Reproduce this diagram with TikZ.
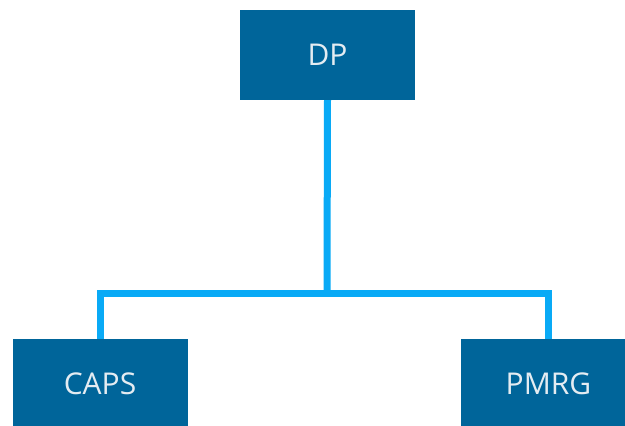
\documentclass[tikz,border=0pt]{standalone}
\usepackage{fontspec}
\setmainfont{Open Sans}
\usepackage{tikz}
\usetikzlibrary{calc}
\definecolor{boxblue}{RGB}{0,101,154}
\definecolor{linkblue}{RGB}{9,170,246}
\definecolor{boxtext}{RGB}{228,236,242}
\tikzset{
  unit/.style={fill=boxblue,draw=none,minimum width=175pt,minimum height=90pt,
    text=boxtext,font=\fontsize{30}{34}\selectfont,inner sep=0pt},
  link/.style={draw=linkblue,line width=7pt}
}

\begin{document}
\begin{tikzpicture}[x=1pt,y=-1pt]
  \useasboundingbox (0,0) rectangle (625,426);
  \clip (0,0) rectangle (625,426);
  \node[unit] (dp) at (327.5,55) {DP};
  \node[unit] (caps) at (100,384) {CAPS};
  \node[unit] (pmrg) at (548.5,384) {PMRG};

  % tree links
  \coordinate (bus) at (327,293.5);
  \draw[link] (dp.south) -- (bus);
  \draw[link] (bus) -| (caps.north);
  \draw[link] (bus) -| (pmrg.north);
\end{tikzpicture}
\end{document}
